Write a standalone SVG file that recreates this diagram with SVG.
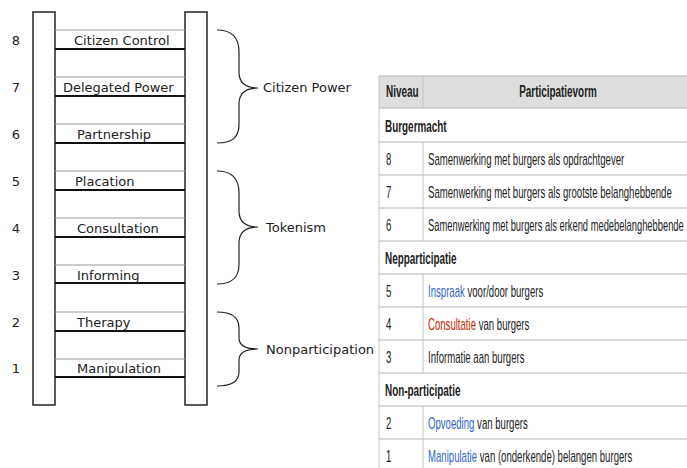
<svg xmlns="http://www.w3.org/2000/svg" width="687" height="468" viewBox="0 0 687 468">
<style>
.rail{fill:#fff;stroke:#222;stroke-width:1.5}
.rtop{stroke:#999;stroke-width:1}
.rbot{stroke:#111;stroke-width:2}
.lad{font-family:"DejaVu Sans",sans-serif;font-size:13px;fill:#222}
.brace{fill:none;stroke:#222;stroke-width:1.2}
.tb{font-family:"Liberation Sans",Arial,sans-serif;font-size:16px;fill:#222}
.b{font-weight:bold}
.blue{fill:#3366cc}
.red{fill:#cc2200}
.hl{stroke:#b4b4b4;stroke-width:1}
.vl{stroke:#c4c4c4;stroke-width:1}
</style>
<rect width="687" height="468" fill="#fff"/>
<g id="ladder">
<rect class="rail" x="33" y="12" width="22" height="393"/>
<rect class="rail" x="185" y="12" width="22" height="393"/>
</g>
<g id="step8"><line class="rtop" x1="55" y1="30" x2="185" y2="30"/><line class="rbot" x1="55" y1="49" x2="185" y2="49"/><text class="lad" x="16" y="45" text-anchor="middle">8</text><text class="lad" x="74" y="45">Citizen Control</text></g>
<g id="step7"><line class="rtop" x1="55" y1="77" x2="185" y2="77"/><line class="rbot" x1="55" y1="96" x2="185" y2="96"/><text class="lad" x="16" y="92" text-anchor="middle">7</text><text class="lad" x="63" y="92">Delegated Power</text></g>
<g id="step6"><line class="rtop" x1="55" y1="124" x2="185" y2="124"/><line class="rbot" x1="55" y1="143" x2="185" y2="143"/><text class="lad" x="16" y="139" text-anchor="middle">6</text><text class="lad" x="77" y="139">Partnership</text></g>
<g id="step5"><line class="rtop" x1="55" y1="171" x2="185" y2="171"/><line class="rbot" x1="55" y1="190" x2="185" y2="190"/><text class="lad" x="16" y="186" text-anchor="middle">5</text><text class="lad" x="75" y="186">Placation</text></g>
<g id="step4"><line class="rtop" x1="55" y1="218" x2="185" y2="218"/><line class="rbot" x1="55" y1="237" x2="185" y2="237"/><text class="lad" x="16" y="233" text-anchor="middle">4</text><text class="lad" x="77" y="233">Consultation</text></g>
<g id="step3"><line class="rtop" x1="55" y1="265" x2="185" y2="265"/><line class="rbot" x1="55" y1="283" x2="185" y2="283"/><text class="lad" x="16" y="280" text-anchor="middle">3</text><text class="lad" x="77" y="280">Informing</text></g>
<g id="step2"><line class="rtop" x1="55" y1="312" x2="185" y2="312"/><line class="rbot" x1="55" y1="331" x2="185" y2="331"/><text class="lad" x="16" y="327" text-anchor="middle">2</text><text class="lad" x="77" y="327">Therapy</text></g>
<g id="step1"><line class="rtop" x1="55" y1="359" x2="185" y2="359"/><line class="rbot" x1="55" y1="377" x2="185" y2="377"/><text class="lad" x="16" y="373" text-anchor="middle">1</text><text class="lad" x="77" y="373">Manipulation</text></g>
<g id="citizen-power"><path class="brace" d="M217,30 C233,30 239,38 239,52 L239,72 C239,82 245,88 258,88 C245,88 239,94 239,104 L239,124 C239,137 233,143 217,143"/><text class="lad" x="263" y="92">Citizen Power</text></g>
<g id="tokenism"><path class="brace" d="M217,171 C233,171 239,179 239,193 L239,211 C239,221 245,227 258,227 C245,227 239,233 239,243 L239,264 C239,277 233,284 217,284"/><text class="lad" x="266" y="232">Tokenism</text></g>
<g id="nonparticipation"><path class="brace" d="M217,312 C233,312 239,318 239,328 L239,338 C239,345 245,349 258,349 C245,349 239,353 239,360 L239,372 C239,381 233,386 217,386"/><text class="lad" x="266" y="354">Nonparticipation</text></g>
<g id="table">
<rect x="379" y="76" width="308" height="32" fill="#dedede"/>
<line class="hl" x1="379" y1="76" x2="687" y2="76"/>
<line class="vl" x1="379" y1="76" x2="379" y2="468"/>
<line class="vl" x1="423" y1="76" x2="423" y2="108"/>
<line class="vl" x1="423" y1="142" x2="423" y2="241"/>
<line class="vl" x1="423" y1="274" x2="423" y2="373"/>
<line class="vl" x1="423" y1="406" x2="423" y2="468"/>
<line class="hl" x1="379" y1="108" x2="687" y2="108"/>
<line class="hl" x1="379" y1="142" x2="687" y2="142"/>
<line class="hl" x1="379" y1="175" x2="687" y2="175"/>
<line class="hl" x1="379" y1="208" x2="687" y2="208"/>
<line class="hl" x1="379" y1="241" x2="687" y2="241"/>
<line class="hl" x1="379" y1="274" x2="687" y2="274"/>
<line class="hl" x1="379" y1="307" x2="687" y2="307"/>
<line class="hl" x1="379" y1="340" x2="687" y2="340"/>
<line class="hl" x1="379" y1="373" x2="687" y2="373"/>
<line class="hl" x1="379" y1="406" x2="687" y2="406"/>
<line class="hl" x1="379" y1="439" x2="687" y2="439"/>
</g>
<g id="header"><text class="tb b" transform="translate(386,97) scale(0.62,1)">Niveau</text><text class="tb b" transform="translate(558,97) scale(0.62,1)" text-anchor="middle">Participatievorm</text></g>
<g id="sec-burgermacht"><text class="tb b" transform="translate(385,132) scale(0.62,1)">Burgermacht</text></g>
<g id="row8"><text class="tb" transform="translate(386,165) scale(0.6,1)">8</text><text class="tb" transform="translate(428,165) scale(0.6,1)">Samenwerking met burgers als opdrachtgever</text></g>
<g id="row7"><text class="tb" transform="translate(386,198) scale(0.6,1)">7</text><text class="tb" transform="translate(428,198) scale(0.6,1)">Samenwerking met burgers als grootste belanghebbende</text></g>
<g id="row6"><text class="tb" transform="translate(386,231) scale(0.6,1)">6</text><text class="tb" transform="translate(428,231) scale(0.585,1)">Samenwerking met burgers als erkend medebelanghebbende</text></g>
<g id="sec-nepparticipatie"><text class="tb b" transform="translate(385,264) scale(0.62,1)">Nepparticipatie</text></g>
<g id="row5"><text class="tb" transform="translate(386,297) scale(0.6,1)">5</text><text class="tb" transform="translate(428,297) scale(0.6,1)"><tspan class="blue">Inspraak</tspan><tspan fill="#222"> voor/door burgers</tspan></text></g>
<g id="row4"><text class="tb" transform="translate(386,330) scale(0.6,1)">4</text><text class="tb" transform="translate(428,330) scale(0.6,1)"><tspan class="red">Consultatie</tspan><tspan fill="#222"> van burgers</tspan></text></g>
<g id="row3"><text class="tb" transform="translate(386,363) scale(0.6,1)">3</text><text class="tb" transform="translate(428,363) scale(0.6,1)">Informatie aan burgers</text></g>
<g id="sec-nonparticipatie"><text class="tb b" transform="translate(385,396) scale(0.62,1)">Non-participatie</text></g>
<g id="row2"><text class="tb" transform="translate(386,429) scale(0.6,1)">2</text><text class="tb" transform="translate(428,429) scale(0.6,1)"><tspan class="blue">Opvoeding</tspan><tspan fill="#222"> van burgers</tspan></text></g>
<g id="row1"><text class="tb" fill="#222" transform="translate(386,462) scale(0.6,1)">1</text><text class="tb" transform="translate(428,462) scale(0.6,1)"><tspan class="blue">Manipulatie</tspan><tspan fill="#222"> van (onderkende) belangen burgers</tspan></text></g>
</svg>
